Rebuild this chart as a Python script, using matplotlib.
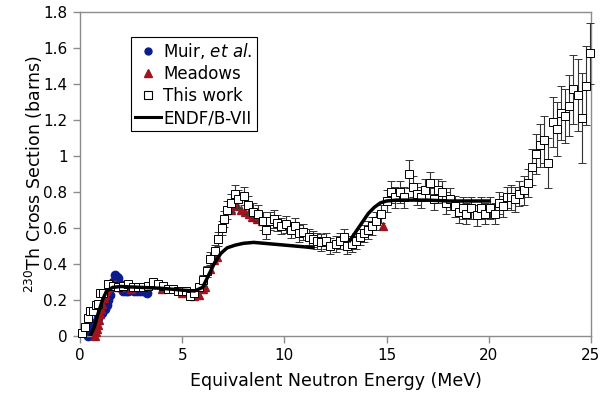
import matplotlib
matplotlib.use("Agg")
import matplotlib.pyplot as plt
import numpy as np
from matplotlib.ticker import FuncFormatter, MultipleLocator
from matplotlib.lines import Line2D

# ---------------- data ----------------
muir_E = [0.4, 0.5, 0.57, 0.65, 0.72, 0.81, 0.9, 1.0, 1.1, 1.22, 1.3, 1.37, 1.45,
          1.55, 1.63, 1.71, 1.8, 1.87, 1.95, 2.05, 2.12, 2.25, 2.36, 2.5, 2.65,
          2.77, 2.93, 3.1, 3.3]
muir_xs = [0.0, 0.02, 0.06, 0.06, 0.07, 0.08, 0.10, 0.12, 0.13, 0.15, 0.17, 0.20, 0.23,
           0.27, 0.30, 0.34, 0.33, 0.32, 0.29, 0.26, 0.25, 0.25, 0.25, 0.26, 0.25,
           0.25, 0.25, 0.25, 0.24]

meadows_E = [0.75, 0.8, 0.85, 0.9, 0.95, 1.0, 1.05, 1.1, 1.15, 1.2, 1.25, 1.3, 1.4,
             1.5, 1.6, 1.7, 1.8, 1.9, 2.0, 2.5, 3.0, 4.0, 5.0, 5.6, 5.8, 6.0, 6.1,
             6.36, 6.55, 6.7, 7.4, 7.58, 7.7, 7.9, 8.07, 8.25, 8.4, 8.65, 8.9, 14.8]
meadows_xs = [0.0, 0.02, 0.04, 0.06, 0.09, 0.12, 0.15, 0.18, 0.21, 0.23, 0.25, 0.26, 0.27,
              0.28, 0.28, 0.29, 0.28, 0.27, 0.27, 0.26, 0.27, 0.26, 0.24, 0.22, 0.23, 0.26, 0.27,
              0.37, 0.42, 0.44, 0.70, 0.73, 0.72, 0.70, 0.69, 0.68, 0.66, 0.65, 0.64, 0.61]

work_E = [0.08, 0.25, 0.4, 0.5, 0.65, 0.8, 0.9, 0.98, 1.14, 1.38, 1.63, 1.87, 2.12,
          2.36, 2.6, 2.85, 3.1, 3.34, 3.58, 3.83, 4.07, 4.32, 4.56, 4.8, 5.0, 5.2,
          5.38, 5.6, 5.8, 6.03, 6.2, 6.36, 6.6, 6.77, 6.93, 7.05, 7.17, 7.4, 7.58,
          7.75, 8.0, 8.23, 8.48, 8.72, 8.97, 9.1, 9.3, 9.5, 9.65, 9.85, 10.1, 10.3,
          10.5, 10.7, 10.9, 11.2, 11.4, 11.6, 11.8, 12.05, 12.25, 12.5, 12.7, 12.9,
          13.05, 13.3, 13.5, 13.7, 13.9, 14.1, 14.3, 14.5, 14.75, 15.0, 15.2, 15.4,
          15.65, 15.85, 16.1, 16.3, 16.5, 16.7, 16.9, 17.1, 17.3, 17.5, 17.7, 17.9,
          18.1, 18.35, 18.55, 18.75, 18.9, 19.15, 19.4, 19.6, 19.8, 20.05, 20.3,
          20.5, 20.7, 20.9, 21.1, 21.3, 21.5, 21.7, 21.9, 22.1, 22.3, 22.5, 22.7,
          22.9, 23.15, 23.32, 23.53, 23.73, 23.93, 24.13, 24.34, 24.54, 24.74, 24.95]
work_xs = [0.015, 0.05, 0.10, 0.14, 0.14, 0.17, 0.18, 0.24, 0.24, 0.29, 0.28, 0.27, 0.28,
           0.29, 0.27, 0.27, 0.27, 0.28, 0.30, 0.29, 0.28, 0.26, 0.26, 0.25, 0.25, 0.25,
           0.22, 0.24, 0.27, 0.31, 0.36, 0.43, 0.47, 0.54, 0.60, 0.65, 0.70, 0.74, 0.79,
           0.76, 0.78, 0.73, 0.69, 0.68, 0.64, 0.59, 0.64, 0.65, 0.63, 0.61, 0.62, 0.59,
           0.61, 0.57, 0.58, 0.55, 0.54, 0.53, 0.52, 0.53, 0.50, 0.51, 0.53, 0.55,
           0.50, 0.51, 0.53, 0.55, 0.57, 0.59, 0.61, 0.64, 0.68, 0.75, 0.80, 0.77,
           0.80, 0.77, 0.90, 0.83, 0.79, 0.77, 0.81, 0.85, 0.76, 0.81, 0.80, 0.74,
           0.76, 0.72, 0.69, 0.71, 0.68, 0.71, 0.67, 0.71, 0.68, 0.71, 0.68,
           0.74, 0.72, 0.77, 0.77, 0.76, 0.79, 0.81, 0.85, 0.94, 1.01, 1.06, 1.09,
           0.96, 1.19, 1.15, 1.24, 1.22, 1.28, 1.37, 1.34, 1.21, 1.39, 1.57]
work_err = [0.015, 0.015, 0.015, 0.015, 0.015, 0.015, 0.015, 0.015, 0.015, 0.015, 0.015, 0.015, 0.015,
            0.015, 0.015, 0.015, 0.015, 0.015, 0.015, 0.015, 0.015, 0.015, 0.015, 0.015, 0.015, 0.015,
            0.015, 0.015, 0.02, 0.03, 0.03, 0.035, 0.035, 0.04, 0.04, 0.045, 0.05, 0.05, 0.05,
            0.05, 0.05, 0.05, 0.05, 0.05, 0.05, 0.05, 0.05, 0.05, 0.045, 0.045, 0.045, 0.045,
            0.045, 0.045, 0.045, 0.045, 0.045, 0.045, 0.045, 0.045, 0.045, 0.045, 0.045, 0.045,
            0.045, 0.045, 0.045, 0.045, 0.045, 0.05, 0.05, 0.05, 0.05, 0.06, 0.06, 0.06,
            0.06, 0.06, 0.08, 0.06, 0.06, 0.06, 0.06, 0.06, 0.06, 0.06, 0.06, 0.06,
            0.06, 0.06, 0.06, 0.06, 0.06, 0.06, 0.06, 0.06, 0.06, 0.06, 0.06,
            0.06, 0.06, 0.06, 0.07, 0.07, 0.07, 0.08, 0.08, 0.10, 0.11, 0.12, 0.13,
            0.14, 0.14, 0.15, 0.15, 0.15, 0.17, 0.19, 0.20, 0.25, 0.22, 0.17]

endf_E = [0.5, 0.7, 0.9, 1.1, 1.3, 1.6, 2.0, 3.0, 4.0, 5.0, 5.6, 6.0, 6.3, 6.6, 6.9,
          7.2, 7.6, 8.0, 8.5, 9.0, 10.0, 11.0, 11.4, 11.5, 13.1, 13.2, 13.5, 13.8, 14.1,
          14.4, 14.7, 15.0, 15.5, 16.0, 17.0, 18.0, 19.0, 20.0]
endf_xs = [0.0, 0.05, 0.13, 0.2, 0.25, 0.27, 0.275, 0.27, 0.265, 0.255, 0.25, 0.27, 0.34,
           0.41, 0.46, 0.49, 0.505, 0.515, 0.52, 0.515, 0.505, 0.495, 0.49, np.nan, np.nan,
           0.53, 0.58, 0.63, 0.68, 0.715, 0.74, 0.75, 0.755, 0.755, 0.755, 0.75, 0.75, 0.75]

labels = ["Muir, $\\it{et\\ al.}$", "Meadows", "This work", "ENDF/B-VII"]

# ---------------- plot ----------------
plt.rcParams['font.family'] = ['DejaVu Sans']
plt.rcParams['mathtext.fontset'] = 'dejavusans'
fig = plt.figure(figsize=(6.02, 4.07), dpi=100)
ax = fig.add_axes([80/602, 1-336/407, (591-80)/602, (336-12)/407])

blue = '#0B1C8C'
red = '#A0141E'

ax.plot(muir_E, muir_xs, 'o', color=blue, ms=6, mec=blue, zorder=2, clip_on=False)
ax.plot(meadows_E, meadows_xs, '^', color=red, ms=6, mec=red, zorder=3, clip_on=False)
ax.errorbar(work_E, work_xs, yerr=work_err, fmt='s', ms=6.3, mfc='white', mec='black',
            mew=0.7, ecolor='#333333', elinewidth=0.8, capsize=3, capthick=0.8,
            zorder=4, clip_on=False)
ax.plot(endf_E, endf_xs, '-', color='black', lw=2.5, zorder=5)

ax.set_xlim(0, 25)
ax.set_ylim(0, 1.8)
ax.xaxis.set_major_locator(MultipleLocator(5))
ax.yaxis.set_major_locator(MultipleLocator(0.2))
ax.yaxis.set_major_formatter(FuncFormatter(lambda v, p: f"{v:g}"))
ax.xaxis.set_major_formatter(FuncFormatter(lambda v, p: f"{v:g}"))

for s in ax.spines.values():
    s.set_color('#8c8c8c')
    s.set_linewidth(1.0)
ax.tick_params(direction='out', length=5, width=1, color='#8c8c8c', labelsize=11,
               labelcolor='black', pad=4)

ax.set_xlabel("Equivalent Neutron Energy (MeV)", fontsize=12.5, labelpad=6)
ax.set_ylabel("$^{230}$Th Cross Section (barns)", fontsize=12.5, labelpad=-1)

handles = [
    Line2D([], [], ls='none', marker='o', color=blue, ms=5),
    Line2D([], [], ls='none', marker='^', color=red, ms=5.5),
    Line2D([], [], ls='none', marker='s', mfc='white', mec='black', mew=0.8, ms=5.5),
    Line2D([], [], color='black', lw=2.2),
]
leg = ax.legend(handles, labels, loc='upper left', bbox_to_anchor=(0.099, 0.924),
                fontsize=12, frameon=True, fancybox=False, edgecolor='black',
                framealpha=1, borderpad=0.25, labelspacing=0.25, handlelength=1.6,
                handletextpad=0.1, borderaxespad=0)
leg.get_frame().set_linewidth(0.8)

fig.savefig("out.png", dpi=100)
